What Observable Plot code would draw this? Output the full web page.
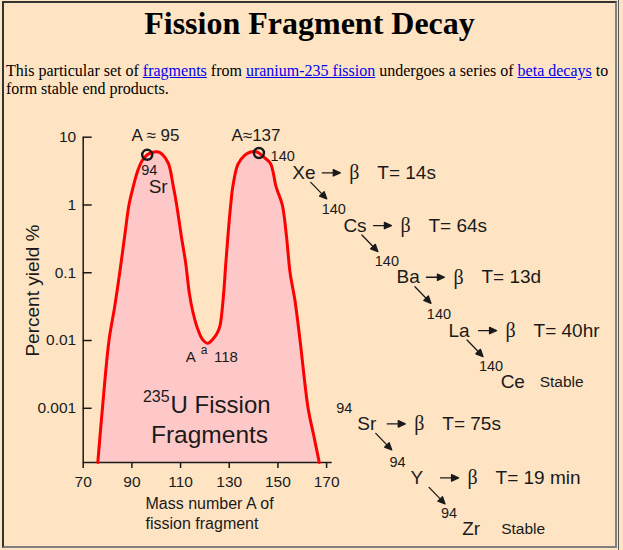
<!DOCTYPE html>
<html>
<head>
<meta charset="utf-8">
<script src="https://cdn.jsdelivr.net/npm/d3@7"></script>
<script src="https://cdn.jsdelivr.net/npm/@observablehq/plot@0.6"></script>
<style>
html, body { margin: 0; padding: 0; background: #FFE4C4; width: 623px; height: 550px; overflow: hidden; }
#box { position: absolute; left: 2px; top: 1px; width: 611px; height: 543px;
  border-left: 2px solid #333; border-top: 2px solid #333; border-right: 2px solid #808080; border-bottom: 2px solid #808080; }
#edge { position: absolute; left: 618px; top: 0; width: 1px; height: 550px; background: #555; }
h1 { position: absolute; left: 4px; width: 611px; top: 5px; margin: 0; text-align: center;
  font: bold 32px "Liberation Serif", "Times New Roman", serif; color: #000; }
p { position: absolute; left: 6px; top: 62px; width: 612px; margin: 0;
  font: 16px "Liberation Serif", "Times New Roman", serif; line-height: 18px; color: #000; }
a { color: #0000EE; text-decoration: underline; }
#chart { position: absolute; left: 0; top: 110px; }
</style>
</head>
<body>
<div id="box"></div>
<div id="edge"></div>
<h1>Fission Fragment Decay</h1>
<p>This particular set of <a href="#">fragments</a> from <a href="#">uranium-235 fission</a> undergoes a series of <a href="#">beta decays</a> to<br>form stable end products.</p>
<div id="chart"></div>
<script>
// ---- yield curve (mass number A, percent yield) ----
const curveA = [76, 77.9, 80.6, 82.9, 85.0, 87.1, 88.8, 90.5, 92.4, 94.2, 96.3, 98.5, 100.5, 102.5, 105.0, 107.0, 108.4, 110.4, 112.1, 113.6, 115.0, 116.8, 119.0, 121.2, 123.4, 125.0, 126.2, 127.6, 128.6, 129.6, 130.6, 131.5, 133.6, 136.3, 138.8, 140.7, 142.2, 144.5, 147.0, 149.3, 151.8, 153.5, 155.0, 157.0, 159.1, 162.4, 164.7, 167.0];
const curveYield = [1.585e-4, 0.001, 0.01, 0.031, 0.1, 0.36, 1.0, 1.83, 3.2, 4.5, 5.5, 6.0, 6.1, 5.6, 4.1, 1.9, 1.0, 0.33, 0.14, 0.05, 0.027, 0.0157, 0.0104, 0.0091, 0.0106, 0.0128, 0.0165, 0.045, 0.14, 0.4, 1.0, 1.9, 4.0, 5.4, 6.05, 6.15, 5.85, 5.0, 4.05, 1.83, 1.0, 0.35, 0.1, 0.039, 0.01, 0.001, 4e-4, 1.585e-4];

// marked peaks
const peakA = [96.3, 142.2];
const peakYield = [5.5, 5.85];
const peakLabels = ["A ≈ 95", "A≈137"];
const peakLabelA = [99.7, 141.0];
const peakLabelYield = [10.6, 10.6];

// axes
const xTicks = [70, 90, 110, 130, 150, 170];
const xTickLabels = ["70", "90", "110", "130", "150", "170"];
const yTicks = [0.001, 0.01, 0.1, 1, 10];
const yTickLabels = ["0.001", "0.01", "0.1", "1", "10"];
const yMin = 1.585e-4, yMax = 10;
const xMin = 70, xMax = 172.3;
const yLabel = "Percent yield %";
const yLabelAt = [49.2, 0.0546];
const xLabel = "Mass number A of\nfission fragment";
const xLabelAt = [95.6, 2.92e-5];

// in-chart annotations (anchors in data units)
const srMass = "94", srSymbol = "Sr";
const srMassAt = [93.8, 3.22], srSymbolAt = [96.9, 1.83];
const valleyParts = ["A", "a", "118"];
const valleyAt = [112.1, 0.00566];
const fissionSup = "235", fissionLine1 = "U Fission", fissionLine2 = "Fragments";
const fissionLine1At = [105.9, 0.0011], fissionLine2At = [121.9, 3.95e-4];

// decay chains
const chain140Mass = "140";
const chain140Symbols = ["Xe", "Cs", "Ba", "La", "Ce"];
const chain140HalfLives = ["T= 14s", "T= 64s", "T= 13d", "T= 40hr", "Stable"];
const chain140A = [155.9, 176.9, 198.7, 220.1, 241.5];
const chain140Yield = [2.98, 0.497, 0.0858, 0.01403, 0.00242];
const chain94Mass = "94";
const chain94Symbols = ["Sr", "Y", "Zr"];
const chain94HalfLives = ["T= 75s", "T= 19 min", "Stable"];
const chain94A = [182.6, 204.5, 225.7];
const chain94Yield = [5.89e-4, 9.39e-5, 1.66e-5];

// ---- build tables ----
const curve = curveA.map((A, i) => ({A, y: curveYield[i]}));
const peaks = peakA.map((A, i) => ({A, y: peakYield[i]}));
const peakText = peakLabels.map((t, i) => ({t, A: peakLabelA[i], y: peakLabelYield[i]}));
const rows140 = chain140Symbols.map((s, i) => ({sym: s, mass: chain140Mass, half: chain140HalfLives[i], A: chain140A[i], y: chain140Yield[i]}));
const rows94 = chain94Symbols.map((s, i) => ({sym: s, mass: chain94Mass, half: chain94HalfLives[i], A: chain94A[i], y: chain94Yield[i]}));
const rows = rows140.concat(rows94);
const decaying = rows.filter(d => d.half !== "Stable");
const stable = rows.filter(d => d.half === "Stable");

const ink = "#1a1a1a";
const sans = "'Liberation Sans', Arial, Helvetica, sans-serif";
const serif = "'Liberation Serif', 'Times New Roman', serif";
const arrowShape = {
  draw(ctx, l) {
    const h = 7, w = 3.2;
    ctx.moveTo(0, 0); ctx.lineTo(0, -l + h);
    ctx.moveTo(0, -l); ctx.lineTo(w, -l + h); ctx.lineTo(-w, -l + h); ctx.closePath();
  }
};
const one = (at, t) => [{A: at[0], y: at[1], t}];

const chart = Plot.plot({
  width: 615,
  height: 440,
  marginLeft: 82.7,
  marginRight: 283.3,
  marginTop: 26.7,
  marginBottom: 88,
  x: {domain: [xMin, xMax]},
  y: {type: "log", domain: [yMin, yMax]},
  style: {background: "transparent", fontFamily: sans, fontSize: "16px", color: ink, overflow: "visible"},
  marks: [
    Plot.areaY(curve, {x: "A", y1: yMin, y2: "y", fill: "#FFC8C8", curve: "catmull-rom"}),
    Plot.ruleX([xMin], {stroke: ink, strokeWidth: 1.5}),
    Plot.ruleY([yMin], {stroke: ink, strokeWidth: 1.5}),
    Plot.axisY({ticks: yTicks, tickFormat: d => yTickLabels[yTicks.indexOf(d)], tickSize: -9, tickPadding: 16, fontSize: 15.5, label: null, strokeWidth: 1.5}),
    Plot.axisX({ticks: xTicks, tickFormat: d => xTickLabels[xTicks.indexOf(d)], tickSize: 6, tickPadding: 7, fontSize: 15.5, label: null, strokeWidth: 1.5}),
    Plot.line(curve, {x: "A", y: "y", stroke: "#FF0000", strokeWidth: 3, curve: "catmull-rom"}),
    Plot.dot(peaks, {x: "A", y: "y", r: 5, stroke: ink, strokeWidth: 2.5, fill: "none"}),
    Plot.text(peakText, {x: "A", y: "y", text: "t", fontSize: 17, fill: ink}),
    // axis titles
    Plot.text(one(yLabelAt, yLabel), {x: "A", y: "y", text: "t", rotate: -90, fontSize: 19, fill: ink}),
    Plot.text(one(xLabelAt, xLabel), {x: "A", y: "y", text: "t", textAnchor: "start", lineHeight: 1.25, fontSize: 16, fill: ink}),
    // Sr label near left peak
    Plot.text(one(srMassAt, srMass), {x: "A", y: "y", text: "t", textAnchor: "start", fontSize: 14.5, fill: ink}),
    Plot.text(one(srSymbolAt, srSymbol), {x: "A", y: "y", text: "t", textAnchor: "start", fontSize: 19, fill: ink}),
    // valley label
    Plot.text(one(valleyAt, valleyParts[0]), {x: "A", y: "y", text: "t", textAnchor: "start", fontSize: 15, fill: ink}),
    Plot.text(one(valleyAt, valleyParts[1]), {x: "A", y: "y", text: "t", textAnchor: "start", dx: 15, dy: -7, fontSize: 12, fill: ink}),
    Plot.text(one(valleyAt, valleyParts[2]), {x: "A", y: "y", text: "t", textAnchor: "start", dx: 28.3, fontSize: 15, fill: ink}),
    // 235U fission fragments
    Plot.text(one(fissionLine1At, fissionLine1), {x: "A", y: "y", text: "t", textAnchor: "start", fontSize: 24, fill: ink}),
    Plot.text(one(fissionLine1At, fissionSup), {x: "A", y: "y", text: "t", textAnchor: "end", dx: -1, dy: -8.5, fontSize: 16, fill: ink}),
    Plot.text(one(fissionLine2At, fissionLine2), {x: "A", y: "y", text: "t", fontSize: 24.5, fill: ink}),
    // decay chains
    Plot.text(rows, {x: "A", y: "y", text: "sym", textAnchor: "start", fontSize: 19, fill: ink}),
    Plot.text(rows140, {x: "A", y: "y", text: "mass", textAnchor: "end", dx: 2.5, dy: -16, fontSize: 14.5, fill: ink}),
    Plot.text(rows94, {x: "A", y: "y", text: "mass", textAnchor: "end", dx: -5, dy: -16, fontSize: 14.5, fill: ink}),
    Plot.vector(decaying, {x: "A", y: "y", length: 18, rotate: 90, anchor: "start", dx: 30, shape: arrowShape, stroke: ink, fill: ink, strokeWidth: 1.3}),
    Plot.vector(decaying, {x: "A", y: "y", length: 23, rotate: 136, anchor: "start", dx: 18.5, dy: 9.5, shape: arrowShape, stroke: ink, fill: ink, strokeWidth: 1.3}),
    Plot.text(decaying, {x: "A", y: "y", text: () => "β", textAnchor: "start", dx: 57, fontFamily: serif, fontSize: 20, fill: ink}),
    Plot.text(decaying, {x: "A", y: "y", text: "half", textAnchor: "start", dx: 85, fontSize: 19, fill: ink}),
    Plot.text(stable, {x: "A", y: "y", text: "half", textAnchor: "start", dx: 39, fontSize: 15.5, fill: ink})
  ]
});
document.getElementById("chart").appendChild(chart);
</script>
</body>
</html>
